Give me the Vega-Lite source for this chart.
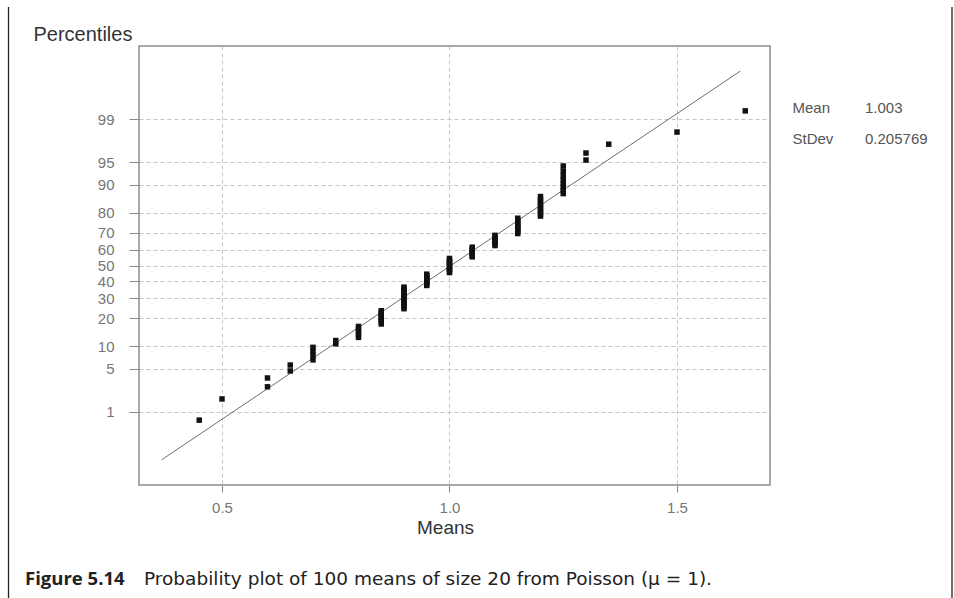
{
  "$schema": "https://vega.github.io/schema/vega-lite/v6.json",
  "width": 631,
  "height": 439,
  "autosize": "none",
  "padding": {"left": 139, "top": 46, "right": 184, "bottom": 113},
  "background": "#ffffff",
  "config": {
    "view": {"stroke": "#8c8c8c", "strokeWidth": 1.5},
    "font": "Liberation Sans"
  },
  "datasets": {
    "means": [
      {"mean": 0.45, "z": -2.4587}, {"mean": 0.50, "z": -2.1217},
      {"mean": 0.60, "z": -1.9286}, {"mean": 0.60, "z": -1.7884},
      {"mean": 0.65, "z": -1.6766}, {"mean": 0.65, "z": -1.5825},
      {"mean": 0.70, "z": -1.5006}, {"mean": 0.70, "z": -1.4277}, {"mean": 0.70, "z": -1.3617}, {"mean": 0.70, "z": -1.3011},
      {"mean": 0.75, "z": -1.2450}, {"mean": 0.75, "z": -1.1925},
      {"mean": 0.80, "z": -1.1431}, {"mean": 0.80, "z": -1.0964}, {"mean": 0.80, "z": -1.0519}, {"mean": 0.80, "z": -1.0095}, {"mean": 0.80, "z": -0.9688},
      {"mean": 0.85, "z": -0.9296}, {"mean": 0.85, "z": -0.8918}, {"mean": 0.85, "z": -0.8552}, {"mean": 0.85, "z": -0.8198}, {"mean": 0.85, "z": -0.7853}, {"mean": 0.85, "z": -0.7518}, {"mean": 0.85, "z": -0.7190},
      {"mean": 0.90, "z": -0.6871}, {"mean": 0.90, "z": -0.6558}, {"mean": 0.90, "z": -0.6252}, {"mean": 0.90, "z": -0.5951}, {"mean": 0.90, "z": -0.5655}, {"mean": 0.90, "z": -0.5365}, {"mean": 0.90, "z": -0.5079}, {"mean": 0.90, "z": -0.4797}, {"mean": 0.90, "z": -0.4518}, {"mean": 0.90, "z": -0.4244}, {"mean": 0.90, "z": -0.3972}, {"mean": 0.90, "z": -0.3703}, {"mean": 0.90, "z": -0.3437},
      {"mean": 0.95, "z": -0.3173}, {"mean": 0.95, "z": -0.2912}, {"mean": 0.95, "z": -0.2652}, {"mean": 0.95, "z": -0.2395}, {"mean": 0.95, "z": -0.2138}, {"mean": 0.95, "z": -0.1884}, {"mean": 0.95, "z": -0.1630}, {"mean": 0.95, "z": -0.1378},
      {"mean": 1.00, "z": -0.1126}, {"mean": 1.00, "z": -0.0875}, {"mean": 1.00, "z": -0.0625}, {"mean": 1.00, "z": -0.0375}, {"mean": 1.00, "z": -0.0125}, {"mean": 1.00, "z": 0.0125}, {"mean": 1.00, "z": 0.0375}, {"mean": 1.00, "z": 0.0625}, {"mean": 1.00, "z": 0.0875}, {"mean": 1.00, "z": 0.1126},
      {"mean": 1.05, "z": 0.1378}, {"mean": 1.05, "z": 0.1630}, {"mean": 1.05, "z": 0.1884}, {"mean": 1.05, "z": 0.2138}, {"mean": 1.05, "z": 0.2395}, {"mean": 1.05, "z": 0.2652}, {"mean": 1.05, "z": 0.2912},
      {"mean": 1.10, "z": 0.3173}, {"mean": 1.10, "z": 0.3437}, {"mean": 1.10, "z": 0.3703}, {"mean": 1.10, "z": 0.3972}, {"mean": 1.10, "z": 0.4244}, {"mean": 1.10, "z": 0.4518}, {"mean": 1.10, "z": 0.4797},
      {"mean": 1.15, "z": 0.5079}, {"mean": 1.15, "z": 0.5365}, {"mean": 1.15, "z": 0.5655}, {"mean": 1.15, "z": 0.5951}, {"mean": 1.15, "z": 0.6252}, {"mean": 1.15, "z": 0.6558}, {"mean": 1.15, "z": 0.6871}, {"mean": 1.15, "z": 0.7190}, {"mean": 1.15, "z": 0.7518},
      {"mean": 1.20, "z": 0.7853}, {"mean": 1.20, "z": 0.8198}, {"mean": 1.20, "z": 0.8552}, {"mean": 1.20, "z": 0.8918}, {"mean": 1.20, "z": 0.9296}, {"mean": 1.20, "z": 0.9688}, {"mean": 1.20, "z": 1.0095}, {"mean": 1.20, "z": 1.0519}, {"mean": 1.20, "z": 1.0964},
      {"mean": 1.25, "z": 1.1431}, {"mean": 1.25, "z": 1.1925}, {"mean": 1.25, "z": 1.2450}, {"mean": 1.25, "z": 1.3011}, {"mean": 1.25, "z": 1.3617}, {"mean": 1.25, "z": 1.4277}, {"mean": 1.25, "z": 1.5006}, {"mean": 1.25, "z": 1.5825},
      {"mean": 1.30, "z": 1.6766}, {"mean": 1.30, "z": 1.7884},
      {"mean": 1.35, "z": 1.9286},
      {"mean": 1.50, "z": 2.1217},
      {"mean": 1.65, "z": 2.4587}
    ],
    "fit": [
      {"mean": 0.3671, "z": -3.0902},
      {"mean": 1.6389, "z": 3.0902}
    ],
    "stats": [
      {"stat": "Mean", "value": "1.003"},
      {"stat": "StDev", "value": "0.205769"}
    ],
    "caption": [
      {"label": "Figure 5.14", "text": "Probability plot of 100 means of size 20 from Poisson (μ = 1)."}
    ]
  },
  "layer": [
    {
      "layer": [
        {
          "data": {"name": "fit"},
          "mark": {"type": "line", "color": "#6e6e6e", "strokeWidth": 1},
          "encoding": {
            "x": {"field": "mean", "type": "quantitative", "scale": {"domain": [0.3176, 1.7044], "nice": false, "zero": false}},
            "y": {"field": "z", "type": "quantitative", "scale": {"domain": [-3.49, 3.49], "nice": false, "zero": false}}
          }
        },
        {
          "data": {"name": "means"},
          "mark": {"type": "square", "size": 30, "color": "#111111", "opacity": 1},
          "encoding": {
            "x": {
              "field": "mean", "type": "quantitative",
              "scale": {"domain": [0.3176, 1.7044], "nice": false, "zero": false},
              "axis": {
                "values": [0.5, 1.0, 1.5], "format": ".1f", "tickCount": 10,
                "domain": false, "tickSize": 7, "tickColor": "#888888", "tickWidth": 1,
                "labelFontSize": 15, "labelColor": "#767676", "labelPadding": 8,
                "labelFlush": false, "labelOverlap": false,
                "grid": true, "gridDash": [4, 3], "gridColor": "#c4c4c4", "gridWidth": 1,
                "title": "Means", "titleFontSize": 19, "titleFontWeight": "normal", "titleColor": "#333333",
                "titleX": 306, "titleY": 48, "titleAlign": "center", "titleBaseline": "alphabetic"
              }
            },
            "y": {
              "field": "z", "type": "quantitative",
              "scale": {"domain": [-3.49, 3.49], "nice": false, "zero": false},
              "axis": {
                "values": [-2.3263, -1.6449, -1.2816, -0.8416, -0.5244, -0.2533, 0, 0.2533, 0.5244, 0.8416, 1.2816, 1.6449, 2.3263],
                "tickCount": 20,
                "labelExpr": "format(cumulativeNormal(datum.value) * 100, '.0f')",
                "domain": false, "tickSize": 10, "tickColor": "#888888", "tickWidth": 1,
                "labelFontSize": 15, "labelColor": "#767676", "labelPadding": 15,
                "labelFlush": false, "labelOverlap": false,
                "grid": true, "gridDash": [4, 3], "gridColor": "#c4c4c4", "gridWidth": 1,
                "title": "Percentiles", "titleFontSize": 20, "titleFontWeight": "normal", "titleColor": "#333333",
                "titleAngle": 0, "titleX": -106, "titleY": -6, "titleAlign": "left", "titleBaseline": "alphabetic"
              }
            }
          }
        },
        {
          "data": {"name": "caption"},
          "mark": {"type": "text", "font": "Open Sans", "fontSize": 18.5, "fontWeight": "bold", "color": "#222222", "align": "left", "baseline": "alphabetic"},
          "encoding": {
            "x": {"datum": 0.0671, "type": "quantitative"},
            "y": {"datum": -5.079, "type": "quantitative"},
            "text": {"field": "label", "type": "nominal"}
          }
        },
        {
          "data": {"name": "caption"},
          "mark": {"type": "text", "font": "DejaVu Sans", "fontSize": 18.5, "color": "#222222", "align": "left", "baseline": "alphabetic"},
          "encoding": {
            "x": {"datum": 0.3286, "type": "quantitative"},
            "y": {"datum": -5.079, "type": "quantitative"},
            "text": {"field": "text", "type": "nominal"}
          }
        },
        {
          "data": {"values": [{}]},
          "mark": {"type": "rule", "color": "#222222", "strokeWidth": 1.3},
          "encoding": {
            "x": {"datum": 0.0308, "type": "quantitative"},
            "y": {"datum": 4.11, "type": "quantitative"},
            "y2": {"datum": -5.4}
          }
        },
        {
          "data": {"values": [{}]},
          "mark": {"type": "rule", "color": "#222222", "strokeWidth": 1.3},
          "encoding": {
            "x": {"datum": 2.1044, "type": "quantitative"},
            "y": {"datum": 4.11, "type": "quantitative"},
            "y2": {"datum": -5.4}
          }
        }
      ]
    },
    {
      "data": {"name": "stats"},
      "mark": {"type": "text", "fontSize": 15, "color": "#555555", "align": "left", "baseline": "alphabetic"},
      "encoding": {
        "x": {"datum": 1.7539, "type": "quantitative"},
        "y": {"field": "stat", "type": "nominal", "scale": {"type": "point", "domain": ["Mean", "StDev"], "range": [66.5, 98], "padding": 0}, "axis": null},
        "text": {"field": "stat", "type": "nominal"}
      }
    },
    {
      "data": {"name": "stats"},
      "mark": {"type": "text", "fontSize": 15, "color": "#555555", "align": "left", "baseline": "alphabetic"},
      "encoding": {
        "x": {"datum": 1.9132, "type": "quantitative"},
        "y": {"field": "stat", "type": "nominal", "scale": {"type": "point", "domain": ["Mean", "StDev"], "range": [66.5, 98], "padding": 0}, "axis": null},
        "text": {"field": "value", "type": "nominal"}
      }
    }
  ],
  "resolve": {"scale": {"y": "independent"}}
}
